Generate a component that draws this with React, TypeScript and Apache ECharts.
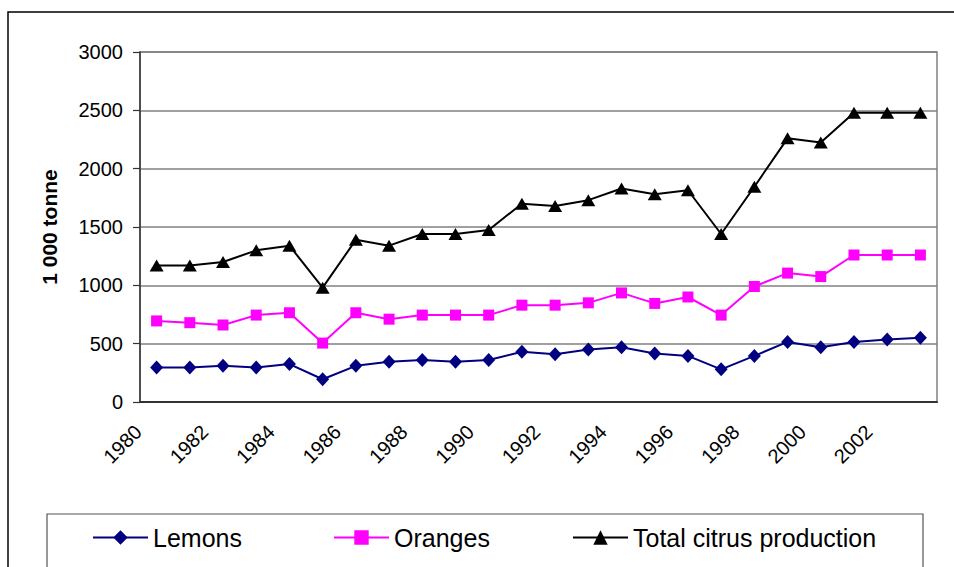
import React, { useEffect, useRef } from "react";
import * as echarts from "echarts";

const years = [
  "1980", "1981", "1982", "1983", "1984", "1985", "1986", "1987", "1988", "1989", "1990", "1991",
  "1992", "1993", "1994", "1995", "1996", "1997", "1998", "1999", "2000", "2001", "2002", "2003",
];
const lemons = [295, 295, 310, 295, 325, 195, 310, 345, 360, 345, 360, 430, 410, 450, 470, 415, 395, 280, 395, 515, 470, 515, 535, 550];
const oranges = [695, 680, 660, 745, 765, 505, 765, 710, 745, 745, 745, 830, 830, 850, 935, 845, 900, 745, 990, 1105, 1075, 1260, 1260, 1260];
const total = [1170, 1170, 1200, 1300, 1340, 980, 1390, 1340, 1440, 1440, 1475, 1700, 1680, 1730, 1830, 1780, 1815, 1440, 1845, 2260, 2225, 2480, 2480, 2480];
const yTicks = { min: 0, max: 3000, interval: 500 };

const FONT = "Liberation Sans, Arial, sans-serif";

export default function App() {
  const ref = useRef<HTMLDivElement>(null);
  useEffect(() => {
    document.body.style.margin = "0";
    const chart = echarts.init(ref.current!, null, { renderer: "svg" });
    const legendBase = {
      top: 525,
      padding: 0,
      itemWidth: 55,
      itemHeight: 18,
      textStyle: { fontSize: 25, fontFamily: FONT, color: "#000" },
      itemGap: 0,
    };
    chart.setOption({
      animation: false,
      backgroundColor: "#fff",
      grid: {
        left: 140,
        right: 17,
        top: 52,
        bottom: 165,
        show: true,
        borderColor: "#808080",
        borderWidth: 1.5,
      },
      legend: [
        { ...legendBase, left: 92, data: ["Lemons"] },
        { ...legendBase, left: 333, data: ["Oranges"] },
        { ...legendBase, left: 572, data: ["Total citrus production"] },
      ],
      graphic: [
        {
          type: "rect",
          shape: { x: 8, y: 12, width: 960, height: 580 },
          style: { fill: "none", stroke: "#000", lineWidth: 1.5 },
          silent: true,
          z: -1,
        },
        {
          type: "rect",
          shape: { x: 47, y: 514, width: 876, height: 80 },
          style: { fill: "none", stroke: "#555", lineWidth: 1.2 },
          silent: true,
          z: -1,
        },
      ],
      xAxis: {
        type: "category",
        data: years,
        boundaryGap: true,
        axisLine: { lineStyle: { color: "#333", width: 2 } },
        axisTick: { interval: 0, length: 6, lineStyle: { color: "#333", width: 1.2 } },
        axisLabel: {
          interval: 1,
          rotate: 45,
          margin: 8,
          padding: [0, 26, 0, 0],
          fontSize: 20,
          fontFamily: FONT,
          color: "#000",
        },
        splitLine: { show: false },
      },
      yAxis: {
        type: "value",
        min: yTicks.min,
        max: yTicks.max,
        interval: yTicks.interval,
        name: "1 000 tonne",
        nameLocation: "middle",
        nameRotate: 90,
        nameGap: 80,
        nameTextStyle: { fontSize: 21, fontWeight: "bold", fontFamily: FONT, color: "#000" },
        axisLine: { show: true, lineStyle: { color: "#333", width: 1.5 } },
        axisTick: { show: true, length: 7, lineStyle: { color: "#333", width: 1.2 } },
        axisLabel: {
          margin: 17,
          fontSize: 20,
          fontFamily: FONT,
          color: "#000",
          formatter: (v: number) => String(v),
        },
        splitLine: { lineStyle: { color: "#808080", width: 1.5 } },
      },
      series: [
        {
          name: "Lemons",
          type: "line",
          data: lemons,
          symbol: "diamond",
          symbolSize: [13, 14],
          itemStyle: { color: "#000080" },
          lineStyle: { color: "#000080", width: 2 },
        },
        {
          name: "Oranges",
          type: "line",
          data: oranges,
          symbol: "rect",
          symbolSize: 11,
          itemStyle: { color: "#FF00FF" },
          lineStyle: { color: "#FF00FF", width: 2 },
        },
        {
          name: "Total citrus production",
          type: "line",
          data: total,
          symbol: "triangle",
          symbolSize: [14, 12],
          itemStyle: { color: "#000" },
          lineStyle: { color: "#000", width: 2 },
        },
      ],
    });
    return () => chart.dispose();
  }, []);
  return <div ref={ref} style={{ width: 954, height: 567 }} />;
}
